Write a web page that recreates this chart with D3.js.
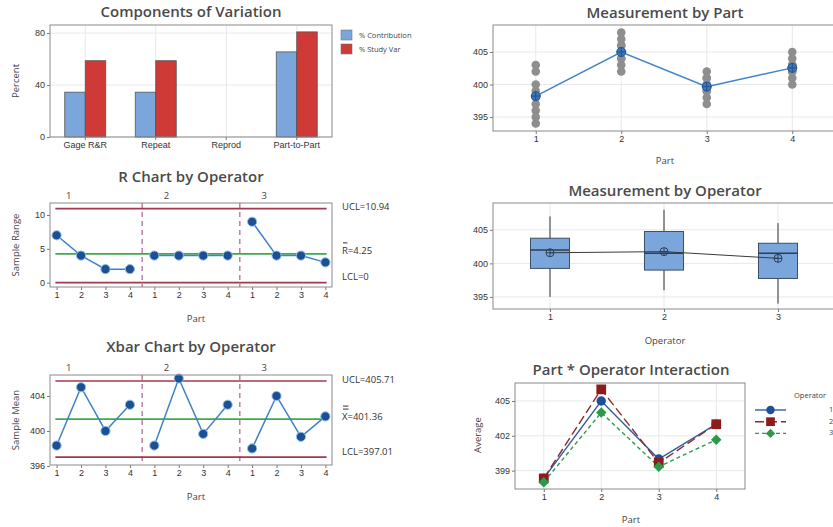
<!DOCTYPE html>
<html><head><meta charset="utf-8">
<script src="https://cdn.jsdelivr.net/npm/d3@7"></script>
<style>
body{margin:0;background:#fff}
svg{display:block;font-family:"Open Sans","Noto Sans",sans-serif}
.title{font-size:15px;font-weight:600;fill:#4a4a4a}
.tick text{font-size:9px;fill:#333}
.tick line{stroke:#777}
.lab{font-size:9.5px;fill:#444}
.lim{font-size:9.5px;fill:#333}
.leg{font-size:7.5px;fill:#444}
</style></head><body>
<svg id="c" width="833" height="527"></svg>
<script>
// Gage R&R study: 3 operators x 4 parts x 3 replicates
const components = ["Gage R&R", "Repeat", "Reprod", "Part-to-Part"];
const pctContribution = [34.5, 34.5, 0, 65.5];
const pctStudyVar = [58.7, 58.7, 0, 80.9];
const parts = [1, 2, 3, 4];
const operators = [1, 2, 3];
// replicate measurements, one row per part
const operator1 = [[395, 398, 402], [403, 405, 407], [399, 400, 401], [402, 403, 404]];
const operator2 = [[396, 399, 400], [404, 406, 408], [398, 399, 402], [401, 403, 405]];
const operator3 = [[394, 397, 403], [402, 404, 406], [397, 400, 401], [400, 402, 403]];
// control limits: UCL, centre, LCL
const rLimits = [10.94, 4.25, 0];
const xbarLimits = [405.71, 401.36, 397.01];
// axis ticks
const pctTicks = [0, 40, 80];
const measTicks = [395, 400, 405];
const rTicks = [0, 5, 10];
const xbarTicks = [396, 400, 404];
const avgTicks = [399, 402, 405];

const svg = d3.select("#c");
const byOp = [operator1, operator2, operator3];
const blue = "#7aa6dc", red = "#cf3a36", limCol = "#a3384f", ctrCol = "#3faa4a";
const ptCol = "#1d4f93", lnCol = "#3f82cc";

function title(x, y, t) {
  svg.append("text").attr("class", "title").attr("x", x).attr("y", y)
    .attr("text-anchor", "middle").attr("dominant-baseline", "middle").text(t);
}
function label(x, y, t, rot) {
  const e = svg.append("text").attr("class", "lab").attr("text-anchor", "middle")
    .attr("dominant-baseline", "middle").text(t);
  if (rot) e.attr("transform", `translate(${x},${y}) rotate(-90)`);
  else e.attr("x", x).attr("y", y);
}
function yAxis(y, x0, ticks) {
  const g = svg.append("g").attr("transform", `translate(${x0},0)`)
    .call(d3.axisLeft(y).tickValues(ticks).tickSize(3).tickPadding(2));
  g.select(".domain").remove();
}
function hGrid(y, x0, x1, ticks) {
  svg.append("g").selectAll("line").data(ticks).join("line")
    .attr("x1", x0).attr("x2", x1).attr("y1", d => y(d)).attr("y2", d => y(d))
    .attr("stroke", "#e8e8e8");
}
function vGrid(xs, y0, y1) {
  svg.append("g").selectAll("line").data(xs).join("line")
    .attr("x1", d => d).attr("x2", d => d).attr("y1", y0).attr("y2", y1)
    .attr("stroke", "#e8e8e8");
}
function border(x0, x1, y0, y1) {
  svg.append("rect").attr("x", x0).attr("y", y0).attr("width", x1 - x0).attr("height", y1 - y0)
    .attr("fill", "none").attr("stroke", "#8a8a8a");
}

/* ---------- Components of Variation ---------- */
{
  const x0 = 50, x1 = 332, y0 = 25, y1 = 137;
  const x = d3.scaleBand().domain(components).range([x0, x1]);
  const y = d3.scaleLinear().domain([0, 86.2]).range([y1, y0]);
  const sub = d3.scaleBand().domain([0, 1]).range([x.bandwidth() / 2 - 20.5, x.bandwidth() / 2 + 20.5]);
  hGrid(y, x0, x1, pctTicks);
  vGrid(components.map(c => x(c) + x.bandwidth() / 2), y0, y1);
  const rows = components.map((c, i) => ({ c, v: [pctContribution[i], pctStudyVar[i]] }));
  const g = svg.append("g");
  rows.forEach(r => {
    r.v.forEach((v, j) => {
      g.append("rect").attr("x", x(r.c) + sub(j)).attr("width", sub.bandwidth())
        .attr("y", y(v)).attr("height", y(0) - y(v))
        .attr("fill", j ? red : blue).attr("stroke", "#555").attr("stroke-width", 0.8);
    });
  });
  yAxis(y, x0, pctTicks);
  const xa = svg.append("g").attr("transform", `translate(0,${y1})`)
    .call(d3.axisBottom(x).tickSize(3).tickPadding(2));
  xa.select(".domain").remove();
  border(x0, x1, y0, y1);
  title(191, 13, "Components of Variation");
  label(16, 81, "Percent", true);
  const leg = [["% Contribution", blue], ["% Study Var", red]];
  leg.forEach((l, i) => {
    svg.append("rect").attr("x", 341).attr("y", 30 + i * 14).attr("width", 11).attr("height", 10)
      .attr("fill", l[1]).attr("stroke", "#777").attr("stroke-width", 0.6);
    svg.append("text").attr("class", "leg").attr("x", 359).attr("y", 35.5 + i * 14)
      .attr("dominant-baseline", "middle").text(l[0]);
  });
}

/* ---------- Measurement by Part ---------- */
{
  const x0 = 493, x1 = 835, y0 = 25, y1 = 131;
  const x = d3.scaleLinear().domain([0.5, 4.5]).range([x0, x1]);
  const y = d3.scaleLinear().domain([392.85, 409.15]).range([y1, y0]);
  hGrid(y, x0, x1, measTicks);
  vGrid(parts.map(p => x(p)), y0, y1);
  const pts = [];
  parts.forEach((p, pi) => byOp.forEach(op => op[pi].forEach(v => pts.push({ p, v }))));
  svg.append("g").selectAll("circle").data(pts).join("circle")
    .attr("cx", d => x(d.p)).attr("cy", d => y(d.v)).attr("r", 4.3).attr("fill", "#8e8e8e");
  const means = parts.map((p, pi) => ({ p, m: d3.mean(byOp.flatMap(op => op[pi])) }));
  svg.append("path").datum(means).attr("fill", "none").attr("stroke", lnCol).attr("stroke-width", 1.5)
    .attr("d", d3.line().x(d => x(d.p)).y(d => y(d.m)));
  const mk = svg.append("g").selectAll("g").data(means).join("g")
    .attr("transform", d => `translate(${x(d.p)},${y(d.m)})`);
  mk.append("circle").attr("r", 4.5).attr("fill", "#3f79bd").attr("stroke", "#1f4f8f");
  mk.append("path").attr("d", "M-4.5,0H4.5M0,-4.5V4.5").attr("stroke", "#1f4f8f").attr("stroke-width", 1);
  yAxis(y, x0, measTicks);
  const xa = svg.append("g").attr("transform", `translate(0,${y1})`)
    .call(d3.axisBottom(x).tickValues(parts).tickFormat(d3.format("d")).tickSize(3).tickPadding(2));
  xa.select(".domain").remove();
  border(x0, x1, y0, y1);
  title(665, 14, "Measurement by Part");
  label(665, 161, "Part");
}

/* ---------- control charts by operator ---------- */
function controlChart(y0, y1, domain, ticks, values, limits, ttl, ylab, titleY, limLabels) {
  const x0 = 50, x1 = 332;
  const x = d3.scaleLinear().domain([0.73, 12.27]).range([x0, x1]);
  const y = d3.scaleLinear().domain(domain).range([y1, y0]);
  const idx = d3.range(1, 13);
  // group separators
  svg.append("g").selectAll("line").data([4.5, 8.5]).join("line")
    .attr("x1", d => x(d)).attr("x2", d => x(d)).attr("y1", y0).attr("y2", y1)
    .attr("stroke", "#9a3f78").attr("stroke-dasharray", "5,4").attr("stroke-width", 1);
  // limits
  svg.append("g").selectAll("line").data(limits).join("line")
    .attr("x1", x(0.95)).attr("x2", x(12.05)).attr("y1", d => y(d)).attr("y2", d => y(d))
    .attr("stroke", (d, i) => i === 1 ? ctrCol : limCol).attr("stroke-width", 1.6);
  // one line per operator group
  operators.forEach((o, oi) => {
    const seg = parts.map((p, pi) => ({ i: oi * 4 + pi + 1, v: values[oi * 4 + pi] }));
    svg.append("path").datum(seg).attr("fill", "none").attr("stroke", lnCol).attr("stroke-width", 1.5)
      .attr("d", d3.line().x(d => x(d.i)).y(d => y(d.v)));
  });
  svg.append("g").selectAll("circle").data(values).join("circle")
    .attr("cx", (d, i) => x(i + 1)).attr("cy", d => y(d)).attr("r", 4.6)
    .attr("fill", ptCol).attr("stroke", "#8fc0ee").attr("stroke-width", 1);
  yAxis(y, x0, ticks);
  const xa = svg.append("g").attr("transform", `translate(0,${y1})`)
    .call(d3.axisBottom(x).tickValues(idx).tickFormat(i => parts[(i - 1) % 4]).tickSize(3).tickPadding(2));
  xa.select(".domain").remove();
  border(x0, x1, y0, y1);
  // operator labels above groups
  svg.append("g").selectAll("text").data(operators).join("text").attr("class", "lab")
    .attr("x", (d, i) => x(i * 4 + 1.5)).attr("y", y0 - 4).attr("text-anchor", "middle")
    .text(d => d);
  title(191, titleY, ttl);
  label(16, (y0 + y1) / 2, ylab, true);
  label(196, y1 + 32, "Part");
  limLabels.forEach((t, i) => {
    const yy = y(limits[i]) + (i === 0 ? -1 : i === 2 ? -5 : -2);
    svg.append("text").attr("class", "lim").attr("x", 342).attr("y", yy)
      .attr("dominant-baseline", "middle").text(t);
  });
  return y;
}

// subgroup statistics, operator-major order
const subgroups = operators.flatMap((o, oi) => parts.map((p, pi) => byOp[oi][pi]));
const ranges = subgroups.map(s => d3.max(s) - d3.min(s));
const means = subgroups.map(s => d3.mean(s));

{
  const y = controlChart(203, 287, [-0.64, 11.77], rTicks, ranges, rLimits,
    "R Chart by Operator", "Sample Range", 178,
    [`UCL=${rLimits[0]}`, `R=${rLimits[1]}`, `LCL=${rLimits[2]}`]);
  // bar over R
  const yb = y(rLimits[1]) - 11;
  svg.append("line").attr("x1", 343).attr("x2", 347.5).attr("y1", yb).attr("y2", yb)
    .attr("stroke", "#333").attr("stroke-width", 1);
}
{
  const y = controlChart(375, 465, [396.11, 406.4], xbarTicks, means, xbarLimits,
    "Xbar Chart by Operator", "Sample Mean", 348,
    [`UCL=${xbarLimits[0]}`, `X=${xbarLimits[1]}`, `LCL=${xbarLimits[2]}`]);
  // double bar over X
  const yb = y(xbarLimits[1]) - 13;
  [0, 3].forEach(dy => svg.append("line").attr("x1", 343).attr("x2", 348.5)
    .attr("y1", yb + dy).attr("y2", yb + dy).attr("stroke", "#333").attr("stroke-width", 1));
}

/* ---------- Measurement by Operator ---------- */
{
  const x0 = 493, x1 = 835, y0 = 203, y1 = 309;
  const x = d3.scaleLinear().domain([0.5, 3.5]).range([x0, x1]);
  const y = d3.scaleLinear().domain([393.2, 409]).range([y1, y0]);
  hGrid(y, x0, x1, measTicks);
  vGrid(operators.map(o => x(o)), y0, y1);
  const stats = operators.map((o, oi) => {
    const v = byOp[oi].flat().sort(d3.ascending);
    const n = v.length;
    const q = p => { const pos = p * (n + 1) - 1, lo = Math.floor(pos); return v[lo] + (pos - lo) * (v[lo + 1] - v[lo]); };
    return { o, min: v[0], max: v[n - 1], q1: q(0.25), med: d3.median(v), q3: q(0.75), mean: d3.mean(v) };
  });
  const bw = 39;
  const g = svg.append("g").selectAll("g").data(stats).join("g");
  g.append("line").attr("x1", d => x(d.o)).attr("x2", d => x(d.o))
    .attr("y1", d => y(d.max)).attr("y2", d => y(d.min)).attr("stroke", "#333");
  g.append("rect").attr("x", d => x(d.o) - bw / 2).attr("width", bw)
    .attr("y", d => y(d.q3)).attr("height", d => y(d.q1) - y(d.q3))
    .attr("fill", blue).attr("stroke", "#3c4f66").attr("stroke-width", 1);
  g.append("line").attr("x1", d => x(d.o) - bw / 2).attr("x2", d => x(d.o) + bw / 2)
    .attr("y1", d => y(d.med)).attr("y2", d => y(d.med)).attr("stroke", "#2c3e55").attr("stroke-width", 1.5);
  svg.append("path").datum(stats).attr("fill", "none").attr("stroke", "#3a3a3a").attr("stroke-width", 1)
    .attr("d", d3.line().x(d => x(d.o)).y(d => y(d.mean)));
  const mk = svg.append("g").selectAll("g").data(stats).join("g")
    .attr("transform", d => `translate(${x(d.o)},${y(d.mean)})`);
  mk.append("circle").attr("r", 4).attr("fill", "none").attr("stroke", "#2c3e55");
  mk.append("path").attr("d", "M-4,0H4M0,-4V4").attr("stroke", "#2c3e55");
  yAxis(y, x0, measTicks);
  const xa = svg.append("g").attr("transform", `translate(0,${y1})`)
    .call(d3.axisBottom(x).tickValues(operators).tickFormat(d3.format("d")).tickSize(3).tickPadding(2));
  xa.select(".domain").remove();
  border(x0, x1, y0, y1);
  title(665, 192, "Measurement by Operator");
  label(665, 341, "Operator");
}

/* ---------- Part * Operator Interaction ---------- */
{
  const x0 = 515, x1 = 745, y0 = 383, y1 = 489;
  const x = d3.scaleLinear().domain([0.5, 4.5]).range([x0, x1]);
  const y = d3.scaleLinear().domain([397.42, 406.55]).range([y1, y0]);
  hGrid(y, x0, x1, avgTicks);
  vGrid(parts.map(p => x(p)), y0, y1);
  const styles = [
    { c: "#1f4f9a", lc: "#2f5f9f", dash: null, shape: d3.symbolCircle, size: 70, rot: 0 },
    { c: "#8c1c1c", lc: "#8c2a2a", dash: "9,4", shape: d3.symbolSquare, size: 95, rot: 0 },
    { c: "#2a9a48", lc: "#2f9a4f", dash: "4,3", shape: d3.symbolSquare, size: 55, rot: 45 }
  ];
  operators.forEach((o, oi) => {
    const s = styles[oi];
    const data = parts.map((p, pi) => ({ p, m: d3.mean(byOp[oi][pi]) }));
    svg.append("path").datum(data).attr("fill", "none").attr("stroke", s.lc).attr("stroke-width", 1.4)
      .attr("stroke-dasharray", s.dash).attr("d", d3.line().x(d => x(d.p)).y(d => y(d.m)));
  });
  operators.forEach((o, oi) => {
    const s = styles[oi];
    const data = parts.map((p, pi) => ({ p, m: d3.mean(byOp[oi][pi]) }));
    svg.append("g").selectAll("path").data(data).join("path")
      .attr("transform", d => `translate(${x(d.p)},${y(d.m)}) rotate(${s.rot})`)
      .attr("d", d3.symbol(s.shape, s.size)).attr("fill", s.c);
  });
  yAxis(y, x0, avgTicks);
  const xa = svg.append("g").attr("transform", `translate(0,${y1})`)
    .call(d3.axisBottom(x).tickValues(parts).tickFormat(d3.format("d")).tickSize(3).tickPadding(2));
  xa.select(".domain").remove();
  border(x0, x1, y0, y1);
  title(631, 371, "Part * Operator Interaction");
  label(478, 435, "Average", true);
  label(631, 520, "Part");
  svg.append("text").attr("class", "leg").attr("x", 794).attr("y", 396)
    .attr("dominant-baseline", "middle").text("Operator");
  operators.forEach((o, oi) => {
    const s = styles[oi], yy = 410 + oi * 11.7;
    svg.append("line").attr("x1", 755).attr("x2", 786).attr("y1", yy).attr("y2", yy)
      .attr("stroke", s.lc).attr("stroke-width", 1.4).attr("stroke-dasharray", s.dash);
    svg.append("path").attr("transform", `translate(770.5,${yy}) rotate(${s.rot})`)
      .attr("d", d3.symbol(s.shape, s.size * 0.8)).attr("fill", s.c);
    svg.append("text").attr("class", "leg").attr("x", 829).attr("y", yy)
      .attr("dominant-baseline", "middle").text(o);
  });
}
</script>
</body></html>
